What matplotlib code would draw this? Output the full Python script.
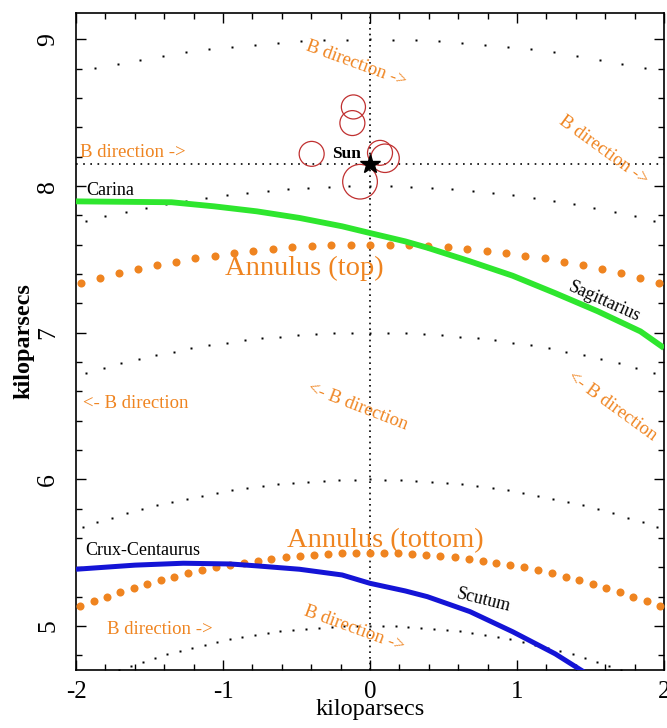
import numpy as np
import matplotlib
matplotlib.use("Agg")
import matplotlib.pyplot as plt
from matplotlib.patches import Circle

plt.rcParams['font.family'] = ['Liberation Serif', 'DejaVu Serif']

# ---- data ----
black_radii = [5.0, 6.0, 7.0, 8.0, 9.0]
annulus_radii = [7.6, 5.5]
sun_x, sun_y = 0.0, 8.15

green_x = [-2.0, -1.35, -1.06, -0.77, -0.48, -0.19, 0.0, 0.24, 0.39, 0.68, 0.97, 1.26, 1.55, 1.84, 2.0]
green_y = [7.896, 7.89, 7.862, 7.828, 7.783, 7.726, 7.68, 7.623, 7.58, 7.487, 7.389, 7.27, 7.146, 7.009, 6.896]

blue_x = [-2.0, -1.6, -1.27, -0.95, -0.77, -0.48, -0.19, 0.0, 0.24, 0.39, 0.68, 0.97, 1.26, 1.45, 1.55]
blue_y = [5.387, 5.415, 5.428, 5.423, 5.41, 5.387, 5.348, 5.291, 5.239, 5.2, 5.098, 4.961, 4.81, 4.69, 4.62]

circ_x = [-0.113, -0.12, -0.397, 0.068, 0.102, -0.068]
circ_y = [8.54, 8.43, 8.22, 8.227, 8.19, 8.03]
circ_r = [0.082, 0.085, 0.085, 0.085, 0.097, 0.118]

# label text, x, y, rotation, colour key, size, ha, va, weight
labels = [
    ("Sun", -0.16, 8.193, 0, "k", 12.5, "center", "baseline", "bold"),
    ("Carina", -1.932, 7.937, 0, "k", 13, "left", "baseline", "normal"),
    ("Sagittarius", 1.592, 7.208, -24, "k", 13, "center", "center", "normal"),
    ("Crux-Centaurus", -1.935, 5.485, 0, "k", 13, "left", "baseline", "normal"),
    ("Scutum", 0.773, 5.177, -14, "k", 13, "center", "center", "normal"),
    ("Annulus (top)", -0.45, 7.391, 0, "o", 20.5, "center", "baseline", "normal"),
    ("Annulus (tottom)", 0.106, 5.541, 0, "o", 20.5, "center", "baseline", "normal"),
    ("B direction ->", -0.095, 8.836, -20, "o", 13.5, "center", "center", "normal"),
    ("B direction ->", -1.973, 8.232, 0, "o", 13.5, "left", "center", "normal"),
    ("B direction ->", 1.59, 8.242, -36, "o", 13.5, "center", "center", "normal"),
    ("<- B direction", -1.95, 6.52, 0, "o", 13.5, "left", "center", "normal"),
    ("<- B direction", -0.082, 6.497, -21, "o", 13.5, "center", "center", "normal"),
    ("<- B direction", 1.646, 6.497, -36, "o", 13.5, "center", "center", "normal"),
    ("B direction ->", -1.79, 4.973, 0, "o", 13.5, "left", "center", "normal"),
    ("B direction ->", -0.11, 4.984, -20, "o", 13.5, "center", "center", "normal"),
]

ORANGE = "#EF8420"
GREEN = "#2EE62E"
BLUE = "#1414D6"
RED = "#C03030"

fig = plt.figure(figsize=(6.67, 7.28), dpi=100)
ax = fig.add_axes([0.114, 0.0797, 0.8815, 0.9023])
ax.set_xlim(-2, 2)
ax.set_ylim(4.70, 9.18)

step = np.deg2rad(1.0)
for R in black_radii:
    tmax = np.arcsin(min(1.0, 2.2 / R))
    n = int(np.floor(tmax / step))
    th = np.arange(-n, n + 1) * step
    ax.plot(R * np.sin(th), R * np.cos(th), ls="none", marker="s", ms=2.1,
            color="k", mec="none", zorder=2)

for R in annulus_radii:
    tmax = np.arcsin(min(1.0, 2.2 / R))
    n = int(np.floor(tmax / step))
    th = np.arange(-n, n + 1) * step
    ax.plot(R * np.sin(th), R * np.cos(th), ls="none", marker="o", ms=5.8,
            color=ORANGE, mec="none", zorder=3)

ax.axvline(sun_x, color="k", lw=1.2, ls=(0, (1, 2.4)), zorder=1)
ax.axhline(sun_y, color="k", lw=1.2, ls=(0, (1, 3.3)), zorder=1)

ax.plot(green_x, green_y, color=GREEN, lw=4.2, solid_capstyle="butt", zorder=4)
ax.plot(blue_x, blue_y, color=BLUE, lw=3.6, solid_capstyle="butt", zorder=4)

for cx, cy, r in zip(circ_x, circ_y, circ_r):
    ax.add_patch(Circle((cx, cy), r, fill=False, ec=RED, lw=0.9, zorder=5))

ax.plot([sun_x], [sun_y], marker="*", ms=15, color="k", zorder=6)

for txt, x, y, rot, c, s, ha, va, w in labels:
    ax.text(x, y, txt, rotation=rot, color=("k" if c == "k" else ORANGE),
            fontsize=s, ha=ha, va=va, fontweight=w, rotation_mode="anchor", zorder=7)

ax.set_xticks([-2, -1, 0, 1, 2])
ax.set_xticklabels(["-2", "-1", "0", "1", "2"])
ax.set_yticks([5, 6, 7, 8, 9])
ax.xaxis.set_minor_locator(matplotlib.ticker.MultipleLocator(0.2))
ax.yaxis.set_minor_locator(matplotlib.ticker.MultipleLocator(0.2))
ax.tick_params(which="both", direction="in", top=True, right=True, width=1.0, labelsize=18.5)
ax.tick_params(which="major", length=7)
ax.tick_params(which="minor", length=4.5)
ax.tick_params(axis="x", pad=8, labelsize=18)
ax.tick_params(axis="y", pad=12)
for lab in ax.get_yticklabels():
    lab.set_rotation(90)
    lab.set_va("center")
for sp in ax.spines.values():
    sp.set_linewidth(1.2)

ax.set_xlabel("kiloparsecs", fontsize=17.5, labelpad=-3)
ax.set_ylabel("kiloparsecs", fontsize=17.5, fontweight="bold", labelpad=2)

fig.savefig("out.png", dpi=100)
